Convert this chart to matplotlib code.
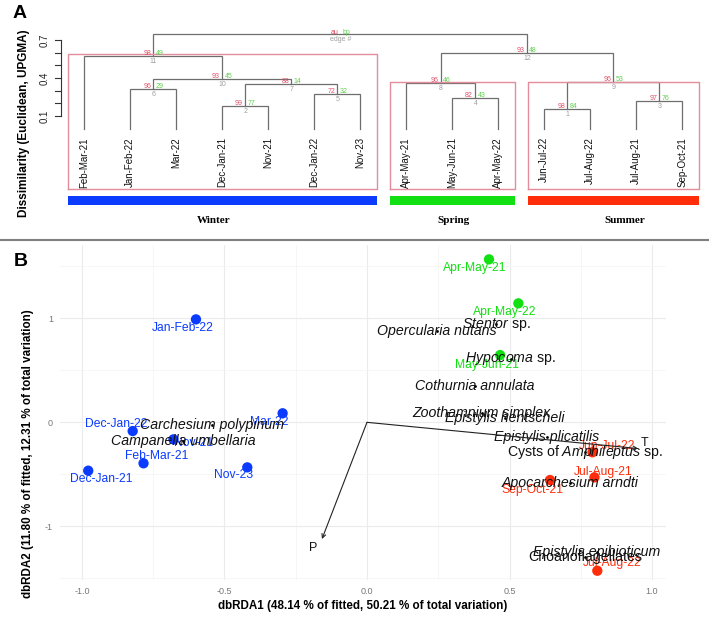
import matplotlib
matplotlib.use("Agg")
import matplotlib.pyplot as plt
from matplotlib.lines import Line2D

plt.rcParams["font.family"] = ["Liberation Sans", "DejaVu Sans"]
plt.rcParams["mathtext.fontset"] = "custom"
plt.rcParams["mathtext.rm"] = "Liberation Sans"
plt.rcParams["mathtext.it"] = "Liberation Sans:italic"
plt.rcParams["axes.unicode_minus"] = False

# ---- panel A: UPGMA dendrogram (pvclust) ----
leaf_labels = ["Feb-Mar-21", "Jan-Feb-22", "Mar-22", "Dec-Jan-21", "Nov-21",
               "Dec-Jan-22", "Nov-23", "Apr-May-21", "May-Jun-21", "Apr-May-22",
               "Jun-Jul-22", "Jul-Aug-22", "Jul-Aug-21", "Sep-Oct-21"]
# merges: negative = leaf (1-based, plot order), positive = earlier merge
merge_left = [-11, -4, -13, -9, -6, -2, 2, -8, 1, 6, -1, 8, 11]
merge_right = [-12, -5, -14, -10, -7, -3, 5, 4, 3, 7, 10, 9, 12]
merge_height = [0.153, 0.177, 0.215, 0.24, 0.27, 0.31, 0.35, 0.36, 0.365,
                0.39, 0.575, 0.595, 0.75]
au = [98, 99, 97, 82, 72, 96, 88, 96, 96, 93, 98, 93, None]
bp = [84, 77, 76, 43, 32, 29, 14, 46, 53, 45, 49, 48, None]

clusters = ["Winter", "Spring", "Summer"]
cluster_first = [1, 8, 11]
cluster_last = [7, 10, 14]
cluster_top = [0.587, 0.366, 0.366]
cluster_colors = ["#0B3BFF", "#12E012", "#FF2D0A"]
season_label_x = [3.82, 9.03, 12.74]

# ---- panel B: dbRDA ----
site_names = ["Jan-Feb-22", "Dec-Jan-22", "Feb-Mar-21", "Dec-Jan-21", "Nov-21",
              "Mar-22", "Nov-23", "Apr-May-21", "Apr-May-22", "May-Jun-21",
              "Jun-Jul-22", "Jul-Aug-21", "Sep-Oct-21", "Jul-Aug-22"]
site_x = [-0.600, -0.822, -0.784, -0.978, -0.679, -0.296, -0.420, 0.428,
          0.531, 0.467, 0.791, 0.798, 0.642, 0.808]
site_y = [0.990, -0.084, -0.394, -0.465, -0.164, 0.087, -0.433, 1.567,
          1.144, 0.647, -0.288, -0.529, -0.555, -1.427]
site_lab_x = [-0.646, -0.881, -0.737, -0.933, -0.607, -0.344, -0.467, 0.379,
              0.484, 0.420, 0.841, 0.829, 0.579, 0.859]
site_lab_y = [0.907, -0.016, -0.320, -0.545, -0.199, 0.006, -0.507, 1.487,
              1.063, 0.551, -0.225, -0.475, -0.651, -1.356]
site_season = [0, 0, 0, 0, 0, 0, 0, 1, 1, 1, 2, 2, 2, 2]

species = ["Opercularia nutans", "$\\mathit{Stentor}$ sp.", "$\\mathit{Hypocoma}$ sp.",
           "Cothurnia annulata", "Zoothamnium simplex", "Epistylis hentscheli",
           "Epistylis plicatilis", "Cysts of $\\mathit{Amphileptus}$ sp.",
           "Apocarchesium arndti", "Epistylis epibioticum", "Choanoflagellates",
           "Carchesium polypinum", "Campanella umbellaria"]
species_italic = [True, False, False, True, True, True, True, False, True, True,
                  False, True, True]
species_x = [0.244, 0.453, 0.504, 0.379, 0.402, 0.484, 0.630, 0.765, 0.712,
             0.807, 0.765, -0.545, -0.646]
species_y = [0.878, 0.942, 0.609, 0.352, 0.092, 0.038, -0.138, -0.288, -0.587,
             -1.247, -1.292, -0.026, -0.177]

env_names = ["T", "P"]
env_x = [0.951, -0.158]
env_y = [-0.252, -1.122]
env_lab_x = [0.975, -0.190]
env_lab_y = [-0.196, -1.210]

W, H = 709, 627
fig = plt.figure(figsize=(W / 100, H / 100), dpi=100)

# ===== panel A =====
ax = fig.add_axes([0, 1 - 240 / H, 1, 240 / H])
ax.axis("off")
ax.set_xlim(-0.833, 14.58)
ax.set_ylim(-0.879, 1.016)

line_col = "#6E6E6E"
node_x = []
for i in range(len(merge_height)):
    xs, hs = [], []
    for c in (merge_left[i], merge_right[i]):
        if c < 0:
            xs.append(-c)
            hs.append(0.0)
        else:
            xs.append(node_x[c - 1])
            hs.append(merge_height[c - 1])
    h = merge_height[i]
    ax.plot([xs[0], xs[0], xs[1], xs[1]], [hs[0], h, h, hs[1]],
            color=line_col, lw=0.9, solid_joinstyle="miter")
    node_x.append((xs[0] + xs[1]) / 2)
    if au[i] is not None:
        ax.text(node_x[i] - 0.05, h + 0.02, str(au[i]), color="#DF536B",
                fontsize=5, ha="right", va="center")
        ax.text(node_x[i] + 0.05, h + 0.02, str(bp[i]), color="#61D04F",
                fontsize=5, ha="left", va="center")
        ax.text(node_x[i], h - 0.042, str(i + 1), color="#9E9E9E",
                fontsize=5, ha="center", va="center")

# root legend
ax.text(6.52, 0.76, "au", color="#DF536B", fontsize=5, ha="right", va="center")
ax.text(6.62, 0.76, "bp", color="#61D04F", fontsize=5, ha="left", va="center")
ax.text(6.57, 0.708, "edge #", color="#9E9E9E", fontsize=5, ha="center", va="center")

for k in range(len(leaf_labels)):
    ax.text(k + 1, -0.066, leaf_labels[k], rotation=90, ha="center", va="top",
            fontsize=7, color="#111111")

for j in range(len(clusters)):
    x0 = cluster_first[j] - 0.36
    x1 = cluster_last[j] + 0.36
    ax.plot([x0, x1, x1, x0, x0],
            [-0.478, -0.478, cluster_top[j], cluster_top[j], -0.478],
            color="#E38C9C", lw=1.0)
    ax.fill_between([x0, x1], -0.606, -0.533, color=cluster_colors[j], lw=0)
    ax.text(season_label_x[j], -0.722, clusters[j], ha="center", va="center",
            fontsize=8, fontweight="bold", family="Liberation Serif")

# y axis of dendrogram
ax_x = 0.487
ax.plot([ax_x, ax_x], [0.1, 0.7], color="#333333", lw=0.8)
for t in [0.1, 0.2, 0.3, 0.4, 0.5, 0.6, 0.7]:
    ax.plot([ax_x - 0.12, ax_x], [t, t], color="#333333", lw=0.8)
for t in [0.1, 0.4, 0.7]:
    ax.text(0.146, t, f"{t:.1f}", rotation=90, ha="center", va="center",
            fontsize=7, color="#222222")

fig.text(24 / W, 1 - 123 / H, "Dissimilarity (Euclidean, UPGMA)", rotation=90,
         ha="center", va="center", fontsize=8.5, fontweight="bold")
fig.text(20 / W, 1 - 13 / H, "A", ha="center", va="center", fontsize=14,
         fontweight="bold")

fig.add_artist(Line2D([0, 1], [1 - 240 / H, 1 - 240 / H], color="#7F7F7F", lw=1.5))

# ===== panel B =====
bx = fig.add_axes([60 / W, 1 - 580 / H, 606 / W, 335 / H])
bx.set_xlim(-1.077, 1.049)
bx.set_ylim(-1.516, 1.705)
for s in bx.spines.values():
    s.set_visible(False)
bx.set_xticks([-1.0, -0.5, 0.0, 0.5, 1.0])
bx.set_xticklabels(["-1.0", "-0.5", "0.0", "0.5", "1.0"])
bx.set_xticks([-0.75, -0.25, 0.25, 0.75], minor=True)
bx.set_yticks([-1, 0, 1])
bx.set_yticklabels(["-1", "0", "1"])
bx.set_yticks([-1.5, -0.5, 0.5, 1.5], minor=True)
bx.grid(which="major", color="#EBEBEB", lw=0.8)
bx.grid(which="minor", color="#F3F3F3", lw=0.5)
bx.tick_params(which="both", length=0, labelsize=6.5, labelcolor="#777777")
bx.tick_params(axis="x", pad=5)
bx.tick_params(axis="y", pad=5)
bx.set_axisbelow(True)

pt_colors = [cluster_colors[s] for s in site_season]
bx.scatter(site_x, site_y, s=55, c=pt_colors, zorder=3, lw=0)
for k in range(len(site_names)):
    bx.text(site_lab_x[k], site_lab_y[k], site_names[k], color=pt_colors[k],
            fontsize=8.7, ha="center", va="center", zorder=4)

bx.scatter(species_x, species_y, s=4, c="black", zorder=5, lw=0)
for k in range(len(species)):
    bx.text(species_x[k], species_y[k], species[k], fontsize=10.2,
            style="italic" if species_italic[k] else "normal",
            ha="center", va="center", color="#111111", zorder=6)

for k in range(len(env_names)):
    bx.annotate("", xy=(env_x[k], env_y[k]), xytext=(0, 0),
                arrowprops=dict(arrowstyle="->", lw=0.8, color="#222222",
                                shrinkA=0, shrinkB=0, mutation_scale=7),
                zorder=7)
    bx.text(env_lab_x[k], env_lab_y[k], env_names[k], fontsize=9,
            ha="center", va="center", color="#111111", zorder=7)

fig.text(363 / W, 1 - 606 / H,
         "dbRDA1 (48.14 % of fitted, 50.21 % of total variation)",
         ha="center", va="center", fontsize=8.4, fontweight="bold")
fig.text(28 / W, 1 - 454 / H,
         "dbRDA2 (11.80 % of fitted, 12.31 % of total variation)",
         rotation=90, ha="center", va="center", fontsize=8.4, fontweight="bold")
fig.text(21 / W, 1 - 262 / H, "B", ha="center", va="center", fontsize=14,
         fontweight="bold")

fig.savefig("out.png", dpi=100)
